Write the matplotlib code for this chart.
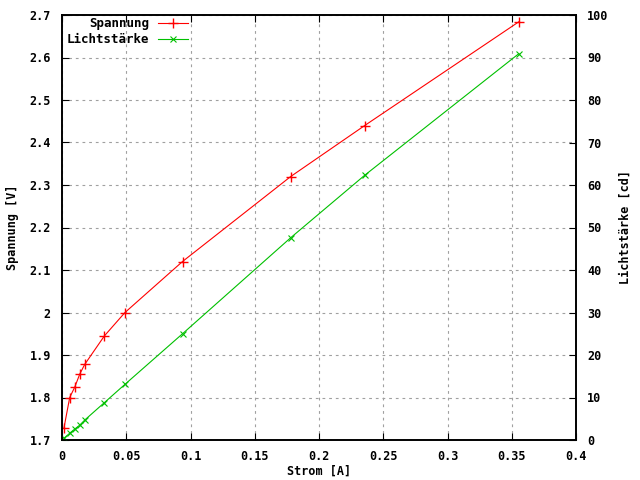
import matplotlib
matplotlib.use("Agg")
import matplotlib.pyplot as plt
from matplotlib.ticker import FuncFormatter, MultipleLocator

# ---------- Data ----------
strom = [0.0015, 0.006, 0.010, 0.0138, 0.0177, 0.033, 0.049, 0.0938, 0.178, 0.2356, 0.3555]
spannung = [1.728, 1.80, 1.825, 1.855, 1.878, 1.945, 2.0, 2.12, 2.32, 2.44, 2.684]
lichtstaerke = [0.4, 1.6, 2.6, 3.5, 4.7, 8.8, 13.1, 25.0, 47.6, 62.3, 90.9]
# ---------------------------------------------------

plt.rcParams["font.family"] = ["DejaVu Sans Mono"]
plt.rcParams["font.weight"] = "bold"
plt.rcParams["axes.labelweight"] = "bold"
plt.rcParams["font.size"] = 8.5

fig = plt.figure(figsize=(6.4, 4.8), dpi=100)
ax = fig.add_axes([62 / 640, 1 - 440 / 480, (576 - 62) / 640, (440 - 15) / 480])
ax2 = ax.twinx()

fmt = FuncFormatter(lambda v, p: "%g" % round(v, 3))

l1, = ax.plot(strom, spannung, color="#ff0000", lw=0.8, marker="+", ms=6.5, mew=1.0,
              label="Spannung")
l2, = ax2.plot(strom, lichtstaerke, color="#00c000", lw=0.8, marker="x", ms=5, mew=0.8,
               label="Lichtstärke")

ax.set_xlim(0, 0.4)
ax.set_ylim(1.7, 2.7)
ax2.set_ylim(0, 100)
ax.xaxis.set_major_locator(MultipleLocator(0.05))
ax.yaxis.set_major_locator(MultipleLocator(0.1))
ax2.yaxis.set_major_locator(MultipleLocator(10))
ax.xaxis.set_major_formatter(fmt)
ax.yaxis.set_major_formatter(fmt)
ax2.yaxis.set_major_formatter(fmt)

ax.grid(True, color="#a0a0a0", linestyle=(0, (2.5, 3.5)), lw=0.8)
ax.tick_params(axis="x", direction="in", top=True, length=5, pad=7)
ax.tick_params(axis="y", direction="in", length=5, pad=8)
ax2.tick_params(axis="y", direction="in", length=5, pad=8)
for a in (ax, ax2):
    for s in a.spines.values():
        s.set_linewidth(1.2)

ax.set_xlabel("Strom [A]")
ax.set_ylabel("Spannung [V]")
ax2.set_ylabel("Lichtstärke [cd]")
ax.xaxis.set_label_coords(0.5, -0.058)
ax.yaxis.set_label_coords(-0.083, 0.5)
ax2.yaxis.set_label_coords(1.083, 0.5)

ax.legend([l1, l2], ["Spannung", "Lichtstärke"], loc="upper left", frameon=False,
          markerfirst=False, handlelength=2.4, handletextpad=0.7,
          borderaxespad=0.2, bbox_to_anchor=(-0.006, 1.013), labelspacing=0.25,
          fontsize=9)

fig.savefig("out.png", dpi=100)
